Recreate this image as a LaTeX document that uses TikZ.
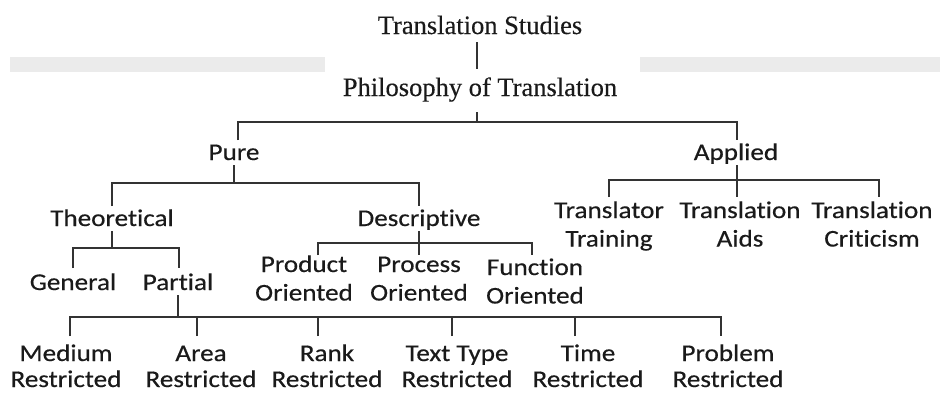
\documentclass[tikz,border=0pt]{standalone}
\usepackage{fontspec}
\setmainfont{Liberation Serif}[FakeBold=0.3]
\newfontfamily\labfont[FakeStretch=1.13,FakeBold=0.4,Ligatures=NoCommon]{Carlito}
\newcommand\twolines[2]{\vtop{\halign{\hfil##\hfil\cr#1\cr#2\cr}}}
\definecolor{linecol}{HTML}{333333}
\definecolor{textcol}{HTML}{1A1A1A}
\definecolor{bandcol}{HTML}{EBEBEB}
\begin{document}
\begin{tikzpicture}[x=1pt,y=-1pt,
  lab/.style={font=\labfont\fontsize{24}{28.5}\selectfont, inner sep=0pt, outer sep=0pt,
              text height=15pt, text depth=5pt, anchor=base, text=textcol},
  low/.style={lab, font=\labfont\fontsize{24}{26}\selectfont},
  ser/.style={font=\fontsize{26.5}{30}\selectfont, inner sep=0pt, outer sep=0pt,
              text height=17.5pt, anchor=base, text=textcol},
  conn/.style={draw=linecol, line width=2pt}]
\useasboundingbox[fill=white] (0,0) rectangle (940,392);
% grey band
\fill[bandcol] (10,57) rectangle (325,72);
\fill[bandcol] (640,57) rectangle (940,72);
% nodes
\node[ser, text depth=8pt] (ts) at (480,34) {Translation Studies};
\node[ser, text depth=16pt] (ph) at (480,96) {Philosophy of Translation};
\node[lab] (pure) at (234,160) {Pure};
\node[lab] (applied) at (736,160) {Applied};
\node[lab] (theo) at (112,226) {Theoretical};
\node[lab] (desc) at (419,226) {Descriptive};
\node[lab] (gen) at (73,290) {General};
\node[lab] (part) at (178,290) {Partial};
\node[lab] (prod) at (304,272) {\twolines{Product}{Oriented}};
\node[lab] (proc) at (419,272) {\twolines{Process}{Oriented}};
\node[lab] (func) at (535,275) {\twolines{Function}{Oriented}};
\node[lab] (tt) at (609,218) {\twolines{Translator}{Training}};
\node[lab] (ta) at (740,218) {\twolines{Translation}{Aids}};
\node[lab] (tc) at (872,218) {\twolines{Translation}{Criticism}};
\node[low] (med) at (66,361) {\twolines{Medium}{Restricted}};
\node[low] (area) at (201,361) {\twolines{Area}{Restricted}};
\node[low] (rank) at (327,361) {\twolines{Rank}{Restricted}};
\node[low] (ttype) at (457,361) {\twolines{Text Type}{Restricted}};
\node[low] (time) at (588,361) {\twolines{Time}{Restricted}};
\node[low] (prob) at (728,361) {\twolines{Problem}{Restricted}};
% connectors
\draw[conn] ([xshift=-3pt]ts.south) -- ([xshift=-3pt,yshift=10pt]ph.north);
\draw[conn] ([xshift=-3pt]ph.south) -- ++(0,10) coordinate (b1);
\draw[conn] ([xshift=4pt,yshift=5pt]pure.north) |- (b1) -| ([xshift=1pt,yshift=5pt]applied.north);
% pure
\draw[conn] (pure.south) -- ++(0,18) coordinate (b2);
\draw[conn] ([yshift=5pt]theo.north) |- (b2) -| ([yshift=5pt]desc.north);
% theoretical
\draw[conn] (theo.south) -- ++(0,17) coordinate (b3);
\draw[conn] ([yshift=7pt]gen.north) |- (b3) -| ([xshift=1pt,yshift=7pt]part.north);
% descriptive
\draw[conn] (desc.south) -- ([yshift=2pt]proc.north);
\coordinate (b4) at ([yshift=-12pt]desc.south);
\draw[conn] ([xshift=14pt,yshift=2pt]prod.north) |- (b4) -| ([xshift=-3pt,yshift=5pt]func.north);
% applied
\draw[conn] ([xshift=1pt]applied.south) -- ([xshift=1pt,yshift=6pt]applied.south |- ta.north);
\coordinate (b5) at ([yshift=-15pt]applied.south);
\draw[conn] ([yshift=6pt]tt.north) |- (b5) -| ([xshift=7pt,yshift=6pt]tc.north);
% partial
\draw[conn] (part.south) -- ++(0,22) coordinate (b6);
\draw[conn] ([xshift=4pt,yshift=10pt]med.north) |- (b6) -| ([xshift=-7pt,yshift=10pt]prob.north);
\draw[conn] ([xshift=-4pt,yshift=10pt]area.north) -- ([xshift=-4pt]area.north |- b6);
\draw[conn] ([xshift=-9pt,yshift=10pt]rank.north) -- ([xshift=-9pt]rank.north |- b6);
\draw[conn] ([xshift=-5pt,yshift=10pt]ttype.north) -- ([xshift=-5pt]ttype.north |- b6);
\draw[conn] ([xshift=-13pt,yshift=10pt]time.north) -- ([xshift=-13pt]time.north |- b6);
\end{tikzpicture}
\end{document}
